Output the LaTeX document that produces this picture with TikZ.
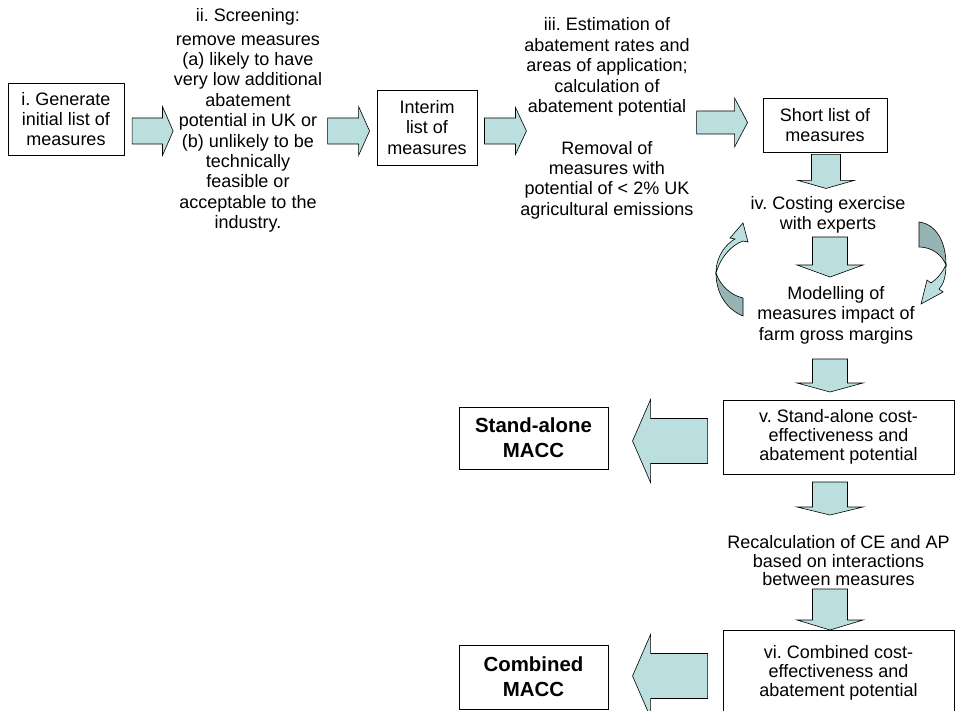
\documentclass[tikz,border=0pt]{standalone}
\usepackage{fontspec}
\setmainfont{Liberation Sans}
\usepackage{xcolor}
\definecolor{flowTeal}{HTML}{BBDEDE}
\definecolor{flowShade}{HTML}{96B4B4}
\usepackage{tikz}
\usetikzlibrary{calc}
\frenchspacing

% block arrow: start, angle, length, shaft half width, head half width, head length
\newcommand{\blockarrow}[6]{%
  \draw[blockarr, shift={#1}, rotate=#2]
    (0,-#4) -- ({#3-#6},-#4) -- ({#3-#6},-#5) -- (#3,0)
    -- ({#3-#6},#5) -- ({#3-#6},#4) -- (0,#4) -- cycle;}

\begin{document}
\begin{tikzpicture}[x=1pt, y=-1pt,
  every node/.style={font=\fontsize{18}{20.4}\selectfont, align=center},
  lowtxt/.style={font=\fontsize{18}{18.8}\selectfont},
  macc/.style={font=\fontsize{20.4}{25}\selectfont\bfseries},
  box/.style={draw, line width=0.9pt, inner sep=0pt},
  blockarr/.style={draw=black, line width=0.6pt, fill=flowTeal, line join=miter},
  shadearr/.style={draw=black, line width=0.6pt, fill=flowShade}]
  \useasboundingbox (0,0) rectangle (955,711);
  \clip (0,0) rectangle (955,711);
  \fill[white] (0,0) rectangle (955,711);
  % ------- top row: from the long list to the short list -------
  \node[box, minimum width=116, minimum height=72] (gen) at (66,119)
    {i. Generate\\initial list of\\measures};
  \node (screen) at (248,120.5)
    {ii. Screening:\\[3pt]remove measures\\(a) likely to have\\very low additional\\abatement\\potential in UK or\\(b) unlikely to be\\technically\\feasible or\\acceptable to the\\industry.};
  \node[box, minimum width=100, minimum height=75] (interim) at (427,127.5)
    {Interim\\list of\\measures};
  \node (estim) at (607,67)
    {iii. Estimation of\\abatement rates and\\areas of application;\\calculation of\\abatement potential};
  \node (remov) at (607,180)
    {Removal of\\measures with\\potential of < 2\% UK\\agricultural emissions};
  \node[box, minimum width=124, minimum height=54] (short) at (825,125)
    {Short list of\\measures};
  \blockarrow{($(gen.east)+(7.7,12)$)}{0}{41}{13}{24.5}{10.7}
  \blockarrow{($(interim.west)+(-49,3.5)$)}{0}{42}{13}{24.5}{11}
  \blockarrow{($(interim.east)+(7,3.5)$)}{0}{42}{13}{23.5}{11}
  \blockarrow{($(short.west)+(-66,-2.5)$)}{0}{51}{11.5}{24.5}{13}
  % ------- costing loop -------
  \node (cost) at (828,215) {iv. Costing exercise\\with experts};
  \node (model) at (836,315) {Modelling of\\measures impact of\\farm gross margins};
  \blockarrow{($(short.south)+(1,2)$)}{-90}{34}{14.5}{28}{8}
  \draw[shadearr] (716,273) .. controls (716,295) and (728,310) .. (743,316)
    -- (743,298) .. controls (730,295) and (720,285) .. (716,273) -- cycle;
  \draw[blockarr] (716,273) .. controls (716,256) and (726,244) .. (735,239)
    -- (730,238) -- (743,223) -- (748,242) -- (743,241)
    .. controls (732,245) and (721,256) .. (716,273) -- cycle;
  \draw[shadearr] (919,222) .. controls (935,224) and (946,240) .. (946,265)
    .. controls (942,255) and (932,247) .. (919,247) -- cycle;
  \draw[blockarr] (946,265) .. controls (946,277) and (943,285) .. (939,289)
    -- (943,292) -- (921,304) -- (927,280) -- (931,283)
    .. controls (937,279) and (942,273) .. (946,265) -- cycle;
  % ------- lower column: stand-alone and combined results -------
  \node[box, lowtxt, minimum width=231, minimum height=74] (standv) at (838.5,437)
    {v. Stand-alone cost-\\effectiveness and\\abatement potential};
  \node[lowtxt] (recalc) at (838.5,560.7)
    {Recalculation of CE and AP\\based on interactions\\between measures};
  \node[box, lowtxt, minimum width=231, minimum height=86] (combv) at (838.5,673)
    {vi. Combined cost-\\effectiveness and\\abatement potential};
  \node[box, macc, minimum width=149, minimum height=62] (standm) at (533.5,438)
    {Stand-alone\\MACC};
  \node[box, macc, minimum width=149, minimum height=64] (combm) at (533.5,677)
    {Combined\\MACC};
  \foreach \nd/\dx/\dy/\len/\hl in {cost/2/22/40/12, model/-6/44/33/9,
      standv/-8.5/45/33/8, recalc/-8.5/28.3/41/10} {
    \blockarrow{($(\nd.center)+(\dx,\dy)$)}{-90}{\len}{17.5}{33}{\hl}
  }
  \blockarrow{($(standv.west)+(-15,4)$)}{180}{75}{22.5}{41.5}{18}
  \blockarrow{($(combv.west)+(-15,3)$)}{180}{75}{22.5}{41.5}{18}
\end{tikzpicture}
\end{document}
